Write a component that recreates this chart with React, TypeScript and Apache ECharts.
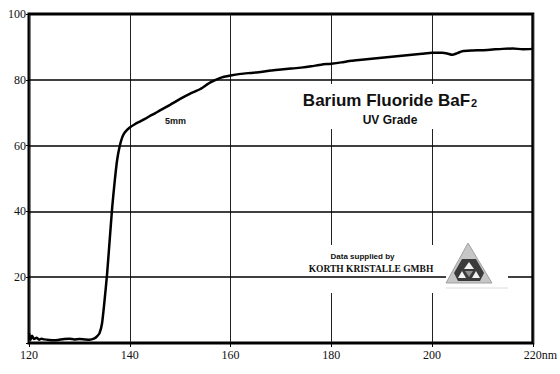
import React, { useEffect, useRef } from "react";
import * as echarts from "echarts";

const wavelengths = [
  120, 120.3, 120.6, 121, 121.5, 122, 122.5, 123,
  124, 125, 126, 127, 128, 129, 130, 131, 132, 133,
  133.5, 134, 134.5, 135, 135.5, 136, 136.5, 137, 137.5, 138, 138.5, 139,
  140, 141, 142, 143, 144, 145, 146,
  148, 150, 152, 154, 156, 158, 160, 162, 164, 166, 168, 170, 172, 174, 176, 178, 180,
  182, 184, 186, 188, 190, 192, 194, 196, 198, 200,
  202, 203, 204, 205, 206,
  208, 210, 212, 214, 216, 218, 220,
];

const transmission = [
  3.0, 1.0, 2.2, 1.2, 1.6, 1.0, 1.3, 1.1,
  0.9, 0.8, 1.0, 1.2, 1.3, 1.1, 1.2, 1.1, 1.0, 1.4,
  2.0, 3.0, 6.0, 13, 21, 31, 41, 49, 55.7, 59.8, 62.5, 64.0,
  65.5, 66.5, 67.3, 68.1, 69.0, 69.8, 70.7,
  72.4, 74.2, 75.8, 77.2, 79.2, 80.6, 81.3, 81.8, 82.1, 82.4, 82.8, 83.1, 83.4, 83.7, 84.1, 84.6, 84.9,
  85.3, 85.8, 86.1, 86.4, 86.7, 87.0, 87.3, 87.6, 87.9, 88.2,
  88.2, 88.0, 87.6, 88.1, 88.7,
  88.9, 89.0, 89.2, 89.4, 89.5, 89.3, 89.4,
];

const xTicks = [120, 140, 160, 180, 200, 220];
const yTicks = [0, 20, 40, 60, 80, 100];
const xUnit = "nm";
const curveLabel = "5mm";
const titleMain = "Barium Fluoride BaF";
const titleSub = "2";
const subtitle = "UV Grade";
const creditLine1 = "Data supplied by";
const creditLine2 = "KORTH KRISTALLE GMBH";

export default function App() {
  const ref = useRef<HTMLDivElement>(null);

  useEffect(() => {
    if (!ref.current) return;
    const chart = echarts.init(ref.current, null, { renderer: "svg" });
    const data = wavelengths.map((w, i) => [w, transmission[i]]);
    const serif = "'Liberation Serif', 'Times New Roman', serif";
    const sans = "'Liberation Sans', Arial, sans-serif";

    chart.setOption({
      animation: false,
      backgroundColor: "#fff",
      grid: {
        left: 29,
        right: 26,
        top: 14,
        bottom: 31,
        show: true,
        borderColor: "#000",
        borderWidth: 3,
        backgroundColor: "transparent",
      },
      xAxis: {
        type: "value",
        min: xTicks[0],
        max: xTicks[xTicks.length - 1],
        interval: 20,
        z: 0,
        axisLine: { show: false },
        axisTick: { show: true, length: 4, lineStyle: { color: "#000", width: 1 } },
        axisLabel: {
          fontFamily: serif,
          fontSize: 12,
          color: "#111",
          margin: 6,
          formatter: (v: number) =>
            v === xTicks[xTicks.length - 1] ? "{p|}" + v + xUnit : String(v),
          rich: { p: { width: 15 } },
        },
        splitLine: { show: true, lineStyle: { color: "#222", width: 1 } },
      },
      yAxis: {
        type: "value",
        min: yTicks[0],
        max: yTicks[yTicks.length - 1],
        interval: 20,
        z: 2,
        axisLine: { show: false },
        axisTick: { show: true, length: 3, lineStyle: { color: "#000", width: 1 } },
        axisLabel: {
          fontFamily: serif,
          fontSize: 12,
          color: "#111",
          margin: 3,
          formatter: (v: number) => (v === 0 ? "" : String(v)),
        },
        splitLine: { show: true, lineStyle: { color: "#000", width: 1.6 } },
      },
      graphic: [
        {
          type: "rect",
          z: 1,
          shape: { x: 295, y: 84, width: 190, height: 45 },
          style: { fill: "#fff" },
        },
        {
          type: "text",
          z: 5,
          x: 390,
          y: 100,
          style: {
            text: "{m|" + titleMain + "}{s|" + titleSub + "}",
            align: "center",
            verticalAlign: "middle",
            rich: {
              m: { fontFamily: sans, fontWeight: "bold", fontSize: 17, fill: "#111" },
              s: {
                fontFamily: sans,
                fontWeight: "bold",
                fontSize: 11,
                fill: "#111",
                padding: [5, 0, 0, 1],
              },
            },
          },
        },
        {
          type: "text",
          z: 5,
          x: 390,
          y: 120,
          style: {
            text: subtitle,
            align: "center",
            verticalAlign: "middle",
            fontFamily: sans,
            fontWeight: "bold",
            fontSize: 12,
            fill: "#111",
          },
        },
        {
          type: "text",
          z: 5,
          x: 175.5,
          y: 121,
          style: {
            text: curveLabel,
            align: "center",
            verticalAlign: "middle",
            fontFamily: sans,
            fontWeight: "bold",
            fontSize: 9,
            fill: "#111",
          },
        },
        {
          type: "rect",
          z: 1,
          shape: { x: 305, y: 245, width: 137, height: 48 },
          style: { fill: "#fff" },
        },
        {
          type: "text",
          z: 5,
          x: 362.5,
          y: 256,
          style: {
            text: creditLine1,
            align: "center",
            verticalAlign: "middle",
            fontFamily: sans,
            fontWeight: "bold",
            fontSize: 8,
            fill: "#111",
          },
        },
        {
          type: "text",
          z: 5,
          x: 371,
          y: 269,
          style: {
            text: creditLine2,
            align: "center",
            verticalAlign: "middle",
            fontFamily: serif,
            fontWeight: "bold",
            fontSize: 9.5,
            fill: "#111",
          },
        },
        {
          type: "rect",
          z: 3,
          shape: { x: 446, y: 240, width: 62, height: 52 },
          style: { fill: "#fff" },
        },
        {
          type: "polygon",
          z: 4,
          shape: { points: [[468, 243], [446, 283], [492, 283]] },
          style: { fill: "#c6c6c6", stroke: "#a0a0a0", lineWidth: 1 },
        },
        {
          type: "line",
          z: 4,
          shape: { x1: 446, y1: 288, x2: 508, y2: 288 },
          style: { stroke: "#dcdcdc", lineWidth: 1 },
        },
        {
          type: "polygon",
          z: 5,
          shape: { points: [[462, 259], [476, 259], [484, 273], [480, 281], [458, 281], [454, 273]] },
          style: { fill: "#3a3a3a" },
        },
        {
          type: "polygon",
          z: 6,
          shape: { points: [[469, 262], [464, 269], [474, 269]] },
          style: { fill: "#f2f2f2" },
        },
        {
          type: "polygon",
          z: 6,
          shape: { points: [[458, 278], [462, 271], [466, 278]] },
          style: { fill: "#f2f2f2" },
        },
        {
          type: "polygon",
          z: 6,
          shape: { points: [[480, 278], [476, 271], [472, 278]] },
          style: { fill: "#f2f2f2" },
        },
        {
          type: "polygon",
          z: 6,
          shape: { points: [[465, 271], [473, 271], [469, 277]] },
          style: { fill: "#909090" },
        },
      ],
      series: [
        {
          type: "line",
          data,
          z: 4,
          showSymbol: false,
          smooth: 0.2,
          lineStyle: { color: "#000", width: 2.5 },
        },
      ],
    });
    return () => chart.dispose();
  }, []);

  return (
    <div
      ref={ref}
      style={{ position: "fixed", left: 0, top: 0, width: 560, height: 374, background: "#fff" }}
    />
  );
}
